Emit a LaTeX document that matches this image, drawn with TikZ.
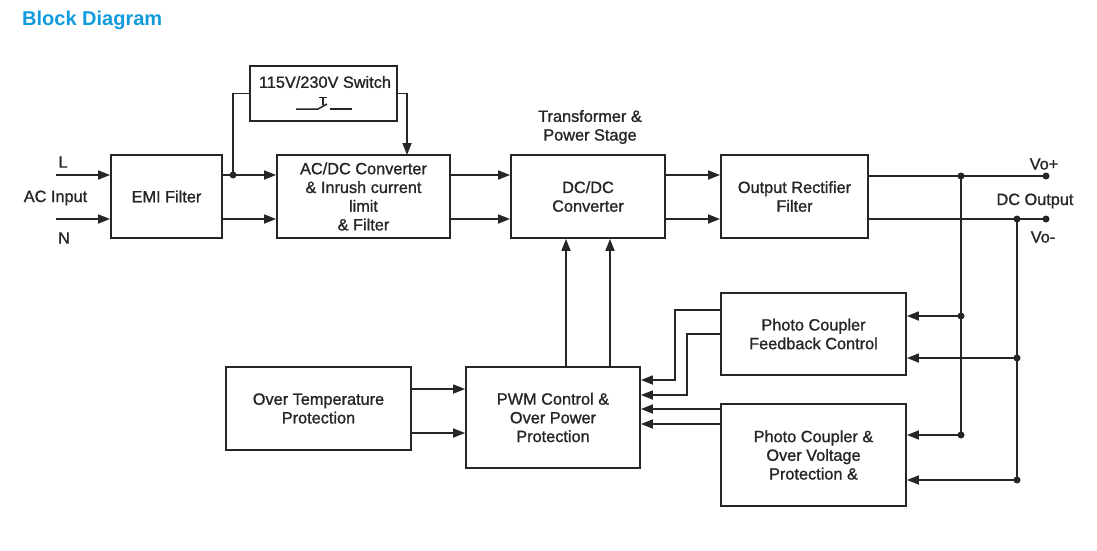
\documentclass[tikz,border=0pt]{standalone}
\usepackage{fontspec}
\setmainfont{Liberation Sans}
\newfontfamily\diagfont{Liberation Sans}[FakeBold=1.2]
\usetikzlibrary{arrows.meta,calc}
\definecolor{ttl}{RGB}{16,155,220}
\definecolor{ln}{HTML}{262626}
\begin{document}
\begin{tikzpicture}[x=1pt,y=-1pt,
  txt/.style={font=\diagfont\fontsize{16.3}{18.7}\selectfont},
  box/.style={draw=ln, line width=1.8pt, inner sep=0pt, align=center, txt, text=ln},
  lbl/.style={inner sep=0pt, align=center, txt, text=ln},
  arr/.style={draw=ln, line width=1.7pt, -{Triangle[length=12pt,width=9pt]}},
  wire/.style={draw=ln, line width=1.7pt},
  jdot/.style={fill=ln}]
\useasboundingbox (0,0) rectangle (1097,550);

% title
\node[anchor=west, inner sep=0pt, text=ttl, font=\bfseries\fontsize{20}{24}\selectfont] (title) at (22,20) {Block Diagram};

% boxes
\node[box, minimum width=147pt, minimum height=55pt] (sw) at (323.5,93.5) {};
\node[lbl] (swt) at (325,82) {115V/230V Switch};
\node[box, minimum width=111pt, minimum height=83pt] (emi) at (166.5,196.5) {EMI Filter};
\node[box, minimum width=173pt, minimum height=83pt] (acdc) at (363.5,196.5) {AC/DC Converter\\\& Inrush current\\limit\\\& Filter};
\node[box, minimum width=154pt, minimum height=83pt] (dcdc) at (588,196.5) {DC/DC\\Converter};
\node[box, minimum width=147pt, minimum height=83pt] (orf) at (794.5,196.5) {Output Rectifier\\Filter};
\node[box, minimum width=185pt, minimum height=83pt] (otp) at (318.5,408.5) {Over Temperature\\Protection};
\node[box, minimum width=174pt, minimum height=101pt] (pwm) at (553,417.5) {PWM Control \&\\Over Power\\Protection};
\node[box, minimum width=185pt, minimum height=82pt] (pcfc) at (813.5,334) {Photo Coupler\\Feedback Control};
\node[box, minimum width=185pt, minimum height=102pt] (pcovp) at (813.5,455) {Photo Coupler \&\\Over Voltage\\Protection \&};

% labels
\node[lbl] (lL) at (63,162) {L};
\node[lbl] (lac) at (55.5,198) {AC Input};
\node[lbl] (lN) at (64,238) {N};
\node[lbl] (ltr) at (590,127) {Transformer \&\\Power Stage};
\node[lbl] (lvp) at (1044,164) {Vo+};
\node[lbl] (ldc) at (1035,201) {DC Output};
\node[lbl] (lvm) at (1043,237) {Vo-};

% switch symbol
\draw[ln, line width=1.5pt] (296,109) -- (318,109) -- (327,104);
\draw[ln, line width=1.5pt] (330,109) -- (352,109);
\draw[ln, line width=1.5pt] (323,97.5) -- (323,105);
\draw[ln, line width=1.5pt] (319,97.5) -- (327,97.5);

% coordinates
\coordinate (Lin) at (56,175);
\coordinate (Nin) at (56,219);
\coordinate (j1) at (233,175);
\coordinate (swin) at (407,155);
\coordinate (vp) at (1046,176);
\coordinate (vm) at (1046,219);
\coordinate (jp) at (961,176);
\coordinate (jm) at (1017,219);
\coordinate (a1) at (961,316);
\coordinate (a2) at (1017,358);
\coordinate (a3) at (961,435);
\coordinate (a4) at (1017,480);
\coordinate (u1) at (566,0);
\coordinate (u2) at (610,0);
\coordinate (t1) at (0,389);
\coordinate (t2) at (0,433);
\coordinate (f1) at (675,310);
\coordinate (f1b) at (675,380);
\coordinate (f2) at (687,334);
\coordinate (f2b) at (687,395);
\coordinate (o1) at (0,409);
\coordinate (o2) at (0,424);

% input
\draw[arr] (Lin) -- (Lin -| emi.west);
\draw[arr] (Nin) -- (Nin -| emi.west);
\draw[arr] (emi.east |- Lin) -- (acdc.west |- Lin);
\draw[arr] (emi.east |- Nin) -- (acdc.west |- Nin);
\draw[wire] (sw.west) -| (j1);
\fill[jdot] (j1) circle (3.5pt);
\draw[arr] (sw.east) -| (swin);

% main chain
\draw[arr] (acdc.east |- Lin) -- (dcdc.west |- Lin);
\draw[arr] (acdc.east |- Nin) -- (dcdc.west |- Nin);
\draw[arr] (dcdc.east |- Lin) -- (orf.west |- Lin);
\draw[arr] (dcdc.east |- Nin) -- (orf.west |- Nin);

% outputs
\draw[wire] (orf.east |- vp) -- (vp);
\draw[wire] (orf.east |- vm) -- (vm);
\fill[jdot] (vp) circle (3.5pt);
\fill[jdot] (vm) circle (3.5pt);
\fill[jdot] (jp) circle (3.5pt);
\fill[jdot] (jm) circle (3.5pt);
\draw[wire] (jp) -- (a3);
\draw[wire] (jm) -- (a4);
\draw[arr] (a1) -- (a1 -| pcfc.east);
\draw[arr] (a2) -- (a2 -| pcfc.east);
\draw[arr] (a3) -- (a3 -| pcovp.east);
\draw[arr] (a4) -- (a4 -| pcovp.east);
\fill[jdot] (a1) circle (3.5pt);
\fill[jdot] (a2) circle (3.5pt);
\fill[jdot] (a3) circle (3.5pt);
\fill[jdot] (a4) circle (3.5pt);

% control
\draw[arr] (pwm.north -| u1) -- (dcdc.south -| u1);
\draw[arr] (pwm.north -| u2) -- (dcdc.south -| u2);
\draw[arr] (otp.east |- t1) -- (pwm.west |- t1);
\draw[arr] (otp.east |- t2) -- (pwm.west |- t2);
\draw[arr] (pcfc.west |- f1) -- (f1) -- (f1b) -- (pwm.east |- f1b);
\draw[arr] (pcfc.west |- f2) -- (f2) -- (f2b) -- (pwm.east |- f2b);
\draw[arr] (pcovp.west |- o1) -- (pwm.east |- o1);
\draw[arr] (pcovp.west |- o2) -- (pwm.east |- o2);
\end{tikzpicture}
\end{document}
